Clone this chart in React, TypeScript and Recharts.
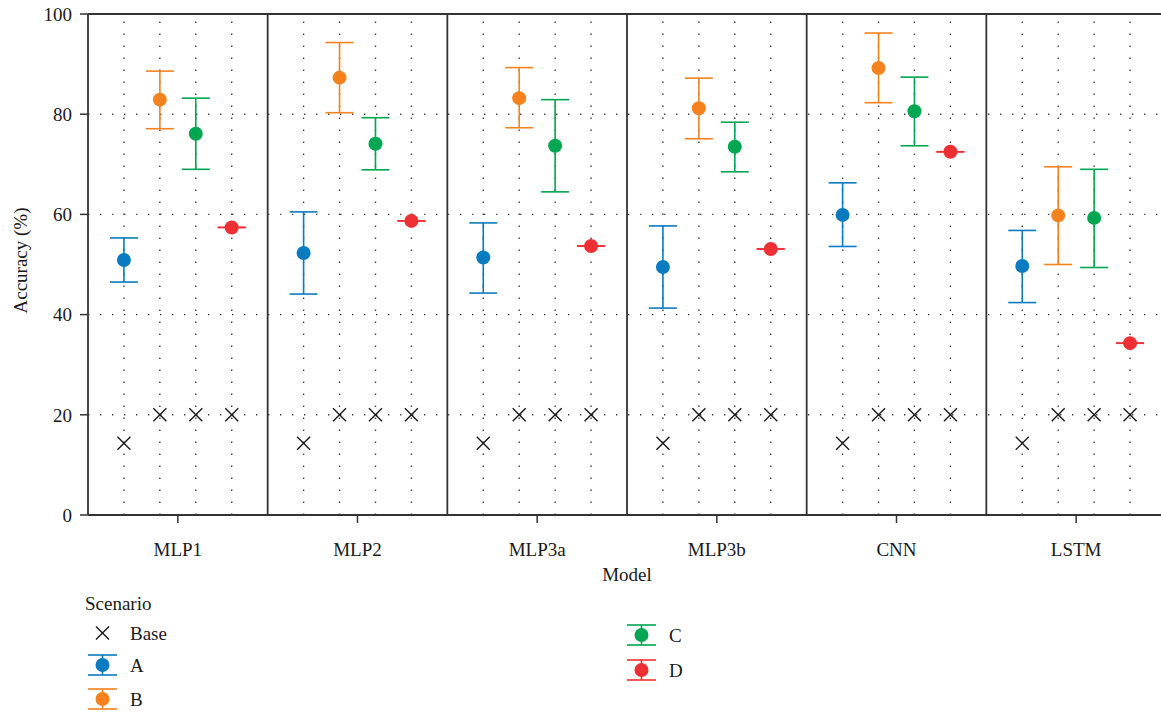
import React from 'react';
import {
  ComposedChart,
  Scatter,
  ErrorBar,
  XAxis,
  YAxis,
  ReferenceLine,
  Legend,
} from 'recharts';

// ---------- data ----------
const models = ['MLP1', 'MLP2', 'MLP3a', 'MLP3b', 'CNN', 'LSTM'];
const scenarios = ['A', 'B', 'C', 'D'];
const slotOffsets = [0.2, 0.4, 0.6, 0.8]; // position of scenario A..D inside a model panel
const baseValues = [14.3, 20, 20, 20]; // Base accuracy for scenario A..D (same for all models)

const meanA = [50.9, 52.3, 51.4, 49.5, 59.9, 49.7];
const lowA = [46.5, 44.1, 44.3, 41.3, 53.6, 42.4];
const highA = [55.3, 60.5, 58.3, 57.7, 66.3, 56.8];

const meanB = [82.9, 87.3, 83.2, 81.2, 89.2, 59.8];
const lowB = [77.1, 80.3, 77.3, 75.1, 82.3, 50.0];
const highB = [88.6, 94.3, 89.3, 87.2, 96.2, 69.5];

const meanC = [76.1, 74.1, 73.7, 73.5, 80.6, 59.3];
const lowC = [69.0, 68.9, 64.5, 68.5, 73.7, 49.4];
const highC = [83.2, 79.3, 82.9, 78.4, 87.4, 69.0];

const meanD = [57.4, 58.7, 53.7, 53.1, 72.5, 34.3];
const lowD = [57.38, 58.68, 53.68, 53.08, 72.48, 34.28];
const highD = [57.42, 58.72, 53.72, 53.12, 72.52, 34.32];

const yTicks = [0, 20, 40, 60, 80, 100];
const yGrid = [20, 40, 60, 80];

// ---------- styles ----------
const COLORS: Record<string, string> = {
  A: '#0A7BC0',
  B: '#F5821F',
  C: '#00A651',
  D: '#EE3035',
};
const FONT = '"Liberation Serif", "DejaVu Serif", serif';
const FS = 19;
const TEXT = '#1a1a1a';
const AXIS = '#333333';

function buildSeries(mean: number[], low: number[], high: number[], slot: number) {
  return models.map((_, i) => ({
    x: i + slotOffsets[slot],
    y: mean[i],
    err: [mean[i] - low[i], high[i] - mean[i]],
  }));
}

const seriesData: Record<string, any[]> = {
  A: buildSeries(meanA, lowA, highA, 0),
  B: buildSeries(meanB, lowB, highB, 1),
  C: buildSeries(meanC, lowC, highC, 2),
  D: buildSeries(meanD, lowD, highD, 3),
};

const baseData = models.flatMap((_, i) =>
  baseValues.map((v, s) => ({ x: i + slotOffsets[s], y: v }))
);

const xTicks = models.map((_, i) => i + 0.5);
const separators = models.map((_, i) => i + 1);
const vGrid = models.flatMap((_, i) => slotOffsets.map((o) => i + o));

// ---------- shapes ----------
const makeDot = (color: string) => (props: any) => {
  const { cx, cy } = props;
  if (cx == null || cy == null) return <g />;
  return <circle cx={cx} cy={cy} r={7} fill={color} />;
};

const Cross = (props: any) => {
  const { cx, cy } = props;
  if (cx == null || cy == null) return <g />;
  const d = 6.5;
  return (
    <g stroke={TEXT} strokeWidth={1.4}>
      <line x1={cx - d} y1={cy - d} x2={cx + d} y2={cy + d} />
      <line x1={cx - d} y1={cy + d} x2={cx + d} y2={cy - d} />
    </g>
  );
};

// ---------- legend ----------
const ErrIcon = ({ x, y, color }: { x: number; y: number; color: string }) => (
  <g>
    <line x1={x - 14.5} x2={x + 14.5} y1={y - 10} y2={y - 10} stroke={color} strokeWidth={1.6} />
    <line x1={x - 14.5} x2={x + 14.5} y1={y + 10} y2={y + 10} stroke={color} strokeWidth={1.6} />
    <line x1={x} x2={x} y1={y - 10} y2={y + 10} stroke={color} strokeWidth={1.6} />
    <circle cx={x} cy={y} r={7} fill={color} />
  </g>
);

const legendItems = [
  { key: 'A', x: 102.5, y: 80 },
  { key: 'B', x: 102.5, y: 114 },
  { key: 'C', x: 641.5, y: 50 },
  { key: 'D', x: 641.5, y: 85 },
];

const LegendBox = () => (
  <svg width={800} height={127} style={{ display: 'block', fontFamily: FONT }}>
    <text x={85} y={18} fontSize={FS} fill={TEXT} dominantBaseline="central">
      Scenario
    </text>
    <Cross cx={102.5} cy={48} />
    <text x={130} y={48} fontSize={FS} fill={TEXT} dominantBaseline="central">
      Base
    </text>
    {legendItems.map((it) => (
      <g key={it.key}>
        <ErrIcon x={it.x} y={it.y} color={COLORS[it.key]} />
        <text x={it.x + 27.5} y={it.y} fontSize={FS} fill={TEXT} dominantBaseline="central">
          {it.key}
        </text>
      </g>
    ))}
  </svg>
);

// ---------- chart ----------
export default function App() {
  return (
    <div
      style={{
        position: 'absolute',
        left: 0,
        top: 0,
        width: 1161,
        height: 712,
        overflow: 'hidden',
        background: '#fff',
      }}
    >
      <ComposedChart
        width={1180}
        height={712}
        margin={{ top: 14, right: 14, bottom: 137, left: 0 }}
        style={{ fontFamily: FONT }}
      >
        <XAxis
          type="number"
          dataKey="x"
          domain={[0, 6]}
          ticks={xTicks}
          interval={0}
          tickFormatter={(v: number) => models[Math.floor(v)]}
          tickSize={8}
          tickMargin={20}
          height={60}
          axisLine={{ stroke: AXIS, strokeWidth: 1.8 }}
          tickLine={{ stroke: AXIS, strokeWidth: 1.5 }}
          tick={{ fill: TEXT, fontSize: FS, fontFamily: FONT }}
          label={{
            content: (p: any) => {
              const vb = p.viewBox || {};
              return (
                <text
                  x={vb.x + vb.width / 2}
                  y={vb.y + 59}
                  textAnchor="middle"
                  dominantBaseline="central"
                  fontSize={FS}
                  fill={TEXT}
                  fontFamily={FONT}
                >
                  Model
                </text>
              );
            },
          }}
        />
        <YAxis
          type="number"
          dataKey="y"
          domain={[0, 100]}
          ticks={yTicks}
          interval={0}
          width={88}
          tickSize={8}
          tickMargin={8}
          axisLine={{ stroke: AXIS, strokeWidth: 1.8 }}
          tickLine={{ stroke: AXIS, strokeWidth: 1.5 }}
          tick={{ fill: TEXT, fontSize: FS, fontFamily: FONT }}
          label={{
            content: (p: any) => {
              const vb = p.viewBox || {};
              const cy = vb.y + vb.height / 2 - 4;
              return (
                <text
                  x={20}
                  y={cy}
                  transform={`rotate(-90, 20, ${cy})`}
                  textAnchor="middle"
                  dominantBaseline="central"
                  fontSize={FS}
                  fill={TEXT}
                  fontFamily={FONT}
                >
                  Accuracy (%)
                </text>
              );
            },
          }}
        />

        {yGrid.map((v) => (
          <ReferenceLine
            key={'hg' + v}
            y={v}
            stroke="#444"
            strokeWidth={1.4}
            strokeDasharray="1.4 10.6"
          />
        ))}
        {vGrid.map((v) => (
          <ReferenceLine
            key={'vg' + v}
            x={v}
            stroke="#444"
            strokeWidth={1.4}
            strokeDasharray="1.4 10.6"
          />
        ))}
        <ReferenceLine y={100} stroke={AXIS} strokeWidth={1.8} />
        {separators.map((v) => (
          <ReferenceLine key={'sep' + v} x={v} stroke={AXIS} strokeWidth={1.8} />
        ))}

        <Scatter
          name="Base"
          data={baseData}
          dataKey="y"
          shape={Cross}
          isAnimationActive={false}
        />
        {scenarios.map((s) => (
          <Scatter
            key={s}
            name={s}
            data={seriesData[s]}
            dataKey="y"
            fill={COLORS[s]}
            shape={makeDot(COLORS[s])}
            isAnimationActive={false}
          >
            <ErrorBar
              dataKey="err"
              direction="y"
              width={14}
              stroke={COLORS[s]}
              strokeWidth={1.6}
              isAnimationActive={false}
            />
          </Scatter>
        ))}

        <Legend
          layout="horizontal"
          verticalAlign="middle"
          align="center"
          wrapperStyle={{ left: 0, top: 585, width: 800, height: 127 }}
          content={() => <LegendBox />}
        />
      </ComposedChart>
    </div>
  );
}
